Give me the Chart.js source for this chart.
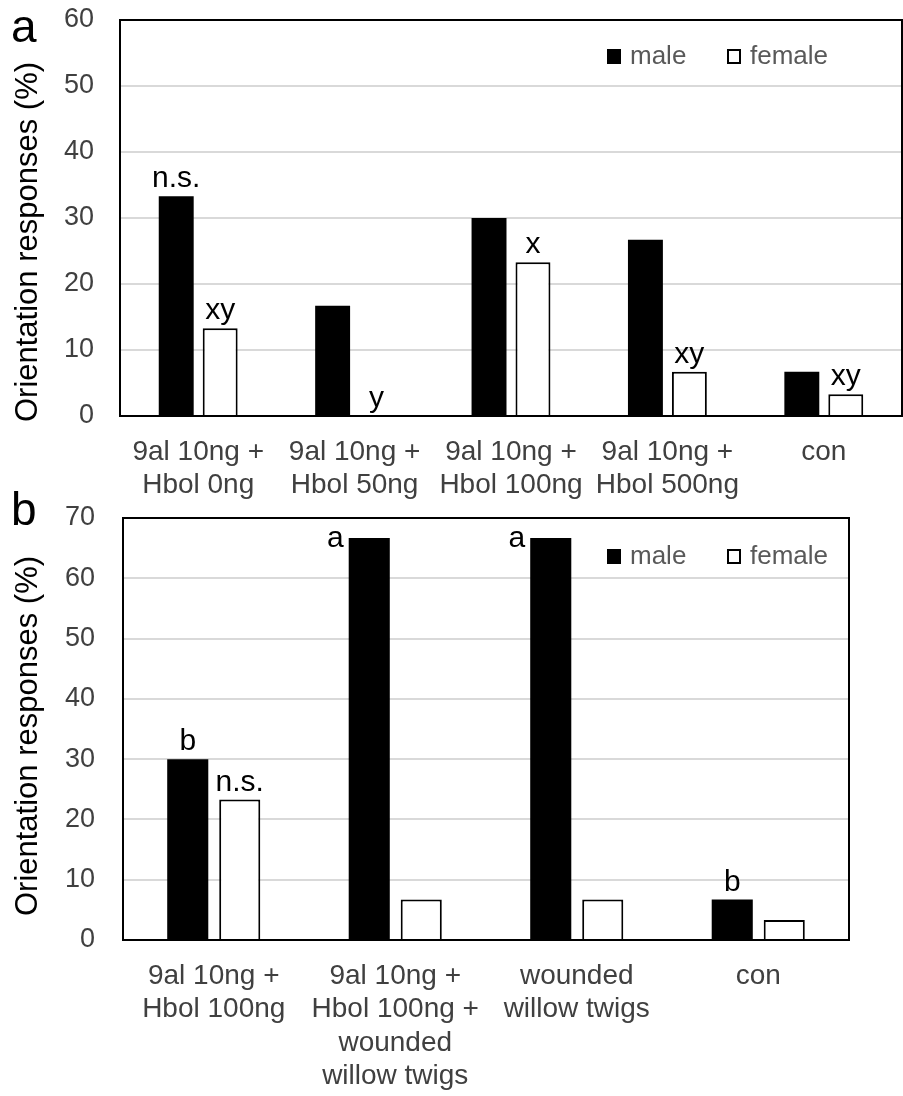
<!DOCTYPE html>
<html>
<head>
<meta charset="utf-8">
<script src="https://cdn.jsdelivr.net/npm/chart.js@4.4.0/dist/chart.umd.min.js"></script>
<style>
	body { margin: 0; background: #fff; overflow: hidden; }
	#wrap { position: relative; width: 903px; height: 1096px; overflow: hidden; }
	canvas { position: absolute; left: 0; }
</style>
</head>
<body>
<div id="wrap">
	<canvas id="chartA" width="903" height="540" style="top:-30px"></canvas>
	<canvas id="chartB" width="903" height="626" style="top:470px"></canvas>
</div>
<script>
// 图 a 数据
const categoriesA = [
	['9al 10ng +', 'Hbol 0ng'],
	['9al 10ng +', 'Hbol 50ng'],
	['9al 10ng +', 'Hbol 100ng'],
	['9al 10ng +', 'Hbol 500ng'],
	'con'
];
const maleA = [33.3, 16.7, 30.0, 26.7, 6.7];
const femaleA = [13.3, 0, 23.3, 6.7, 3.3];
const maleMarksA = ['n.s.', '', '', '', ''];
const femaleMarksA = ['xy', 'y', 'x', 'xy', 'xy'];
const yTicksA = [0, 10, 20, 30, 40, 50, 60];

// 图 b 数据
const categoriesB = [
	['9al 10ng +', 'Hbol 100ng'],
	['9al 10ng +', 'Hbol 100ng +', 'wounded', 'willow twigs'],
	['wounded', 'willow twigs'],
	'con'
];
const maleB = [30.0, 66.7, 66.7, 6.7];
const femaleB = [23.3, 6.7, 6.7, 3.3];
const maleMarksB = ['b', 'a', 'a', 'b'];
const femaleMarksB = ['n.s.', '', '', ''];
const yTicksB = [0, 10, 20, 30, 40, 50, 60, 70];

const seriesNames = ['male', 'female'];

const FONT = '"Liberation Sans", Arial, sans-serif';
Chart.defaults.font.family = FONT;

// 装饰：边框、字母标注、图例、坐标轴标题、面板字母
const decorPlugin = {
	id: 'decor',
	afterDatasetsDraw(chart, args, opts) {
		const ctx = chart.ctx;
		const area = chart.chartArea;
		ctx.save();

		// 绘图区边框
		ctx.strokeStyle = '#000';
		ctx.lineWidth = 2;
		ctx.strokeRect(area.left, area.top, area.right - area.left, area.bottom - area.top);

		// 柱子上方的显著性字母
		ctx.font = '30px ' + FONT;
		ctx.fillStyle = '#000';
		ctx.textBaseline = 'alphabetic';
		chart.data.datasets.forEach((ds, di) => {
			const meta = chart.getDatasetMeta(di);
			meta.data.forEach((bar, i) => {
				const txt = ds.marks[i];
				if (!txt) return;
				let x = bar.x;
				let y = bar.y - 9;
				ctx.textAlign = 'center';
				if (y - 22 < area.top) {
					// 上方空间不足，放在柱子左侧
					ctx.textAlign = 'right';
					x = bar.x - bar.width / 2 - 5;
					y = bar.y + 9;
				}
				ctx.fillText(txt, x, y);
			});
		});

		// 图例
		ctx.font = '26px ' + FONT;
		ctx.textAlign = 'left';
		ctx.textBaseline = 'middle';
		let lx = opts.legendX;
		const ly = opts.legendY;
		chart.data.datasets.forEach((ds, di) => {
			if (di === 0) {
				ctx.fillStyle = '#000';
				ctx.fillRect(lx, ly - 7, 14, 15);
			} else {
				ctx.fillStyle = '#fff';
				ctx.fillRect(lx, ly - 7, 14, 15);
				ctx.strokeStyle = '#000';
				ctx.lineWidth = 2;
				ctx.strokeRect(lx + 1, ly - 6, 12, 13);
			}
			ctx.fillStyle = '#595959';
			ctx.fillText(ds.label, lx + 23, ly + 1);
			lx += 120;
		});

		// 纵轴标题
		ctx.save();
		ctx.translate(37, opts.titleY);
		ctx.rotate(-Math.PI / 2);
		ctx.font = '31px ' + FONT;
		ctx.fillStyle = '#000';
		ctx.textAlign = 'center';
		ctx.textBaseline = 'alphabetic';
		ctx.fillText('Orientation responses (%)', 0, 0);
		ctx.restore();

		// 面板字母
		ctx.font = '46px ' + FONT;
		ctx.fillStyle = '#000';
		ctx.textAlign = 'left';
		ctx.textBaseline = 'alphabetic';
		ctx.fillText(opts.letter, 11, opts.letterY);

		ctx.restore();
	}
};

// 创建柱状图
function makeChart(id, cfg) {
	const ctx = document.getElementById(id).getContext('2d');
	return new Chart(ctx, {
		type: 'bar',
		data: {
			labels: cfg.labels,
			datasets: [
				{
					label: seriesNames[0],
					data: cfg.male,
					marks: cfg.maleMarks,
					backgroundColor: '#000',
					borderWidth: 0,
					categoryPercentage: cfg.catPct,
					barPercentage: cfg.barPct
				},
				{
					label: seriesNames[1],
					data: cfg.female,
					marks: cfg.femaleMarks,
					backgroundColor: '#fff',
					borderColor: '#000',
					borderWidth: 2,
					categoryPercentage: cfg.catPct,
					barPercentage: cfg.barPct
				}
			]
		},
		options: {
			responsive: false,
			animation: false,
			devicePixelRatio: 1,
			layout: { padding: { top: cfg.padTop, right: cfg.padRight, left: 0, bottom: 0 } },
			plugins: {
				legend: { display: false },
				tooltip: { enabled: false },
				decor: cfg.decor
			},
			scales: {
				x: {
					grid: { display: false, drawTicks: false },
					border: { display: false },
					ticks: {
						font: { size: 28, lineHeight: 1.2 },
						color: '#404040',
						padding: 19,
						autoSkip: false,
						maxRotation: 0,
						minRotation: 0
					},
					afterFit: s => { s.height = cfg.xHeight; }
				},
				y: {
					min: cfg.yTicks[0],
					max: cfg.yTicks[cfg.yTicks.length - 1],
					ticks: {
						stepSize: cfg.yTicks[1] - cfg.yTicks[0],
						font: { size: 27 },
						color: '#404040',
						padding: cfg.yPad
					},
					grid: { color: '#d9d9d9', lineWidth: 2, drawTicks: false },
					border: { display: false },
					afterFit: s => { s.width = cfg.yWidth; }
				}
			}
		},
		plugins: [decorPlugin]
	});
}

// 画布 a 向上偏移 30px
makeChart('chartA', {
	labels: categoriesA, male: maleA, female: femaleA,
	maleMarks: maleMarksA, femaleMarks: femaleMarksA, yTicks: yTicksA,
	catPct: 0.562, barPct: 0.795,
	padTop: 50, padRight: 1, xHeight: 94, yWidth: 120, yPad: 26,
	decor: { letter: 'a', letterY: 72, titleY: 272, legendX: 607, legendY: 86 }
});

makeChart('chartB', {
	labels: categoriesB, male: maleB, female: femaleB,
	maleMarks: maleMarksB, femaleMarks: femaleMarksB, yTicks: yTicksB,
	catPct: 0.573, barPct: 0.79,
	padTop: 48, padRight: 54, xHeight: 156, yWidth: 123, yPad: 28,
	decor: { letter: 'b', letterY: 55, titleY: 266, legendX: 607, legendY: 86 }
});
</script>
</body>
</html>
